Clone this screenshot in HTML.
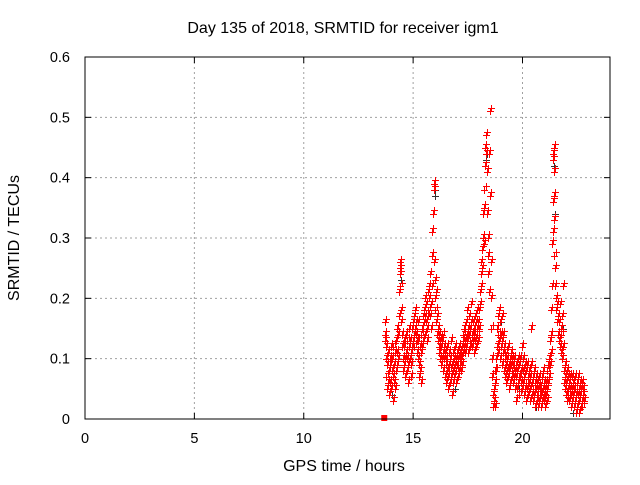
<!DOCTYPE html>
<html><head><meta charset="utf-8"><style>
body{margin:0;background:#fff}
svg text{font-family:"Liberation Sans",sans-serif;font-size:14.5px;fill:#000}
svg text.big{font-size:16px}
</style></head><body>
<svg id="chart" width="640" height="480">
<text class="big" x="343" y="33" text-anchor="middle">Day 135 of 2018, SRMTID for receiver igm1</text>
<g id="grid"></g>
<g id="ticks"></g>
<g id="marks"></g>
<rect x="85" y="57" width="525" height="362" fill="none" stroke="#000"/>
<text class="big" x="344" y="471" text-anchor="middle">GPS time / hours</text>
<text class="big" transform="translate(19,238) rotate(-90)" text-anchor="middle">SRMTID / TECUs</text>
</svg>
<script>
const xTicks=[0,5,10,15,20];
const yTicks=[0,0.1,0.2,0.3,0.4,0.5,0.6];
const yTickLabels=["0","0.1","0.2","0.3","0.4","0.5","0.6"];
// red series: [hour, srmtid]
const redPoints=[
[13.7,0.14],[13.7,0.16],[13.72,0.13],[13.74,0.12],[13.76,0.1],[13.78,0.07],[13.8,0.05],[13.82,0.09],[13.84,0.06],[13.86,0.11],[13.88,0.04],[13.9,0.08],[13.92,0.1],[13.94,0.06],[13.96,0.09],[13.98,0.12],[14.0,0.05],[14.02,0.08],[14.04,0.1],[14.06,0.07],[14.08,0.03],[14.1,0.12],[14.12,0.06],[14.14,0.09],[14.16,0.11],[14.18,0.05],[14.2,0.08],[14.22,0.13],[14.24,0.09],[14.26,0.15],[14.28,0.11],[14.3,0.14],[14.32,0.1],[14.34,0.17],[14.36,0.21],[14.38,0.25],[14.4,0.24],[14.4,0.26],[14.42,0.22],[14.44,0.18],[14.46,0.16],[14.48,0.12],[14.5,0.14],[14.52,0.1],[14.54,0.08],[14.56,0.12],[14.58,0.09],[14.6,0.13],[14.62,0.1],[14.64,0.07],[14.66,0.11],[14.68,0.14],[14.7,0.08],[14.72,0.1],[14.74,0.13],[14.76,0.09],[14.78,0.06],[14.8,0.12],[14.82,0.15],[14.84,0.1],[14.86,0.13],[14.88,0.07],[14.9,0.11],[14.92,0.09],[14.94,0.12],[14.96,0.15],[14.98,0.13],[15.0,0.16],[15.02,0.14],[15.04,0.17],[15.06,0.12],[15.08,0.15],[15.1,0.18],[15.12,0.14],[15.14,0.16],[15.16,0.13],[15.18,0.11],[15.2,0.16],[15.22,0.13],[15.24,0.1],[15.26,0.07],[15.28,0.09],[15.3,0.12],[15.32,0.08],[15.34,0.06],[15.36,0.11],[15.38,0.14],[15.4,0.12],[15.42,0.15],[15.44,0.17],[15.46,0.13],[15.48,0.16],[15.5,0.18],[15.52,0.14],[15.54,0.17],[15.56,0.2],[15.58,0.16],[15.6,0.19],[15.62,0.15],[15.64,0.13],[15.66,0.17],[15.68,0.21],[15.7,0.18],[15.72,0.22],[15.74,0.2],[15.76,0.24],[15.78,0.17],[15.8,0.15],[15.82,0.19],[15.84,0.22],[15.86,0.27],[15.88,0.31],[15.9,0.34],[15.92,0.34],[15.94,0.38],[15.95,0.39],[15.97,0.26],[15.98,0.23],[16.0,0.2],[16.02,0.18],[16.04,0.21],[16.06,0.16],[16.08,0.14],[16.1,0.17],[16.12,0.13],[16.14,0.15],[16.16,0.12],[16.18,0.14],[16.2,0.11],[16.22,0.13],[16.24,0.1],[16.26,0.12],[16.28,0.09],[16.3,0.13],[16.32,0.1],[16.34,0.14],[16.36,0.11],[16.38,0.08],[16.4,0.12],[16.42,0.1],[16.44,0.07],[16.46,0.11],[16.48,0.09],[16.5,0.06],[16.52,0.1],[16.54,0.08],[16.56,0.12],[16.58,0.07],[16.6,0.05],[16.62,0.09],[16.64,0.11],[16.66,0.08],[16.68,0.06],[16.7,0.1],[16.72,0.13],[16.74,0.07],[16.76,0.09],[16.78,0.04],[16.8,0.08],[16.82,0.11],[16.84,0.06],[16.86,0.1],[16.88,0.07],[16.9,0.12],[16.92,0.09],[16.94,0.06],[16.96,0.1],[16.98,0.08],[17.0,0.11],[17.02,0.09],[17.04,0.07],[17.06,0.1],[17.08,0.12],[17.1,0.08],[17.12,0.1],[17.14,0.09],[17.16,0.11],[17.18,0.08],[17.2,0.1],[17.22,0.12],[17.24,0.09],[17.26,0.13],[17.28,0.11],[17.3,0.14],[17.32,0.12],[17.34,0.15],[17.36,0.11],[17.38,0.13],[17.4,0.16],[17.42,0.12],[17.44,0.14],[17.46,0.18],[17.48,0.13],[17.5,0.15],[17.52,0.11],[17.54,0.14],[17.56,0.17],[17.58,0.12],[17.6,0.15],[17.62,0.13],[17.64,0.16],[17.66,0.19],[17.68,0.14],[17.7,0.12],[17.72,0.16],[17.74,0.13],[17.76,0.15],[17.78,0.11],[17.8,0.14],[17.82,0.17],[17.84,0.13],[17.86,0.16],[17.88,0.12],[17.9,0.15],[17.92,0.18],[17.94,0.14],[17.96,0.16],[17.98,0.13],[18.0,0.15],[18.02,0.18],[18.04,0.21],[18.06,0.19],[18.08,0.24],[18.1,0.26],[18.12,0.22],[18.14,0.28],[18.16,0.25],[18.18,0.3],[18.2,0.34],[18.22,0.29],[18.24,0.35],[18.26,0.38],[18.28,0.42],[18.3,0.45],[18.32,0.44],[18.34,0.47],[18.36,0.41],[18.38,0.34],[18.4,0.3],[18.42,0.27],[18.44,0.24],[18.46,0.21],[18.48,0.44],[18.5,0.51],[18.52,0.37],[18.54,0.26],[18.56,0.2],[18.58,0.15],[18.6,0.1],[18.62,0.07],[18.64,0.04],[18.66,0.02],[18.68,0.03],[18.7,0.05],[18.72,0.08],[18.74,0.02],[18.76,0.06],[18.78,0.1],[18.8,0.08],[18.82,0.12],[18.84,0.15],[18.86,0.11],[18.88,0.17],[18.9,0.14],[18.92,0.18],[18.94,0.13],[18.96,0.16],[18.98,0.1],[19.0,0.14],[19.02,0.12],[19.04,0.09],[19.06,0.13],[19.08,0.17],[19.1,0.11],[19.12,0.14],[19.14,0.08],[19.16,0.12],[19.18,0.1],[19.2,0.07],[19.22,0.11],[19.24,0.09],[19.26,0.06],[19.28,0.1],[19.3,0.08],[19.32,0.12],[19.34,0.07],[19.36,0.09],[19.38,0.05],[19.4,0.08],[19.42,0.1],[19.44,0.06],[19.46,0.09],[19.48,0.11],[19.5,0.07],[19.52,0.1],[19.54,0.08],[19.56,0.06],[19.58,0.09],[19.6,0.07],[19.62,0.1],[19.64,0.05],[19.66,0.08],[19.68,0.03],[19.7,0.07],[19.72,0.09],[19.74,0.05],[19.76,0.08],[19.78,0.06],[19.8,0.1],[19.82,0.07],[19.84,0.09],[19.86,0.04],[19.88,0.07],[19.9,0.1],[19.92,0.06],[19.94,0.08],[19.96,0.12],[19.98,0.05],[20.0,0.08],[20.02,0.06],[20.04,0.1],[20.06,0.04],[20.08,0.07],[20.1,0.09],[20.12,0.05],[20.14,0.08],[20.16,0.03],[20.18,0.06],[20.2,0.09],[20.22,0.05],[20.24,0.07],[20.26,0.04],[20.28,0.08],[20.3,0.06],[20.32,0.03],[20.34,0.07],[20.36,0.05],[20.38,0.09],[20.4,0.15],[20.42,0.06],[20.44,0.04],[20.46,0.07],[20.48,0.03],[20.5,0.05],[20.52,0.08],[20.54,0.04],[20.56,0.06],[20.58,0.02],[20.6,0.05],[20.62,0.07],[20.64,0.03],[20.66,0.06],[20.68,0.04],[20.7,0.02],[20.72,0.05],[20.74,0.07],[20.76,0.03],[20.78,0.05],[20.8,0.04],[20.82,0.06],[20.84,0.02],[20.86,0.04],[20.88,0.07],[20.9,0.03],[20.92,0.05],[20.94,0.08],[20.96,0.04],[20.98,0.06],[21.0,0.03],[21.02,0.05],[21.04,0.02],[21.06,0.04],[21.08,0.06],[21.1,0.03],[21.12,0.05],[21.14,0.08],[21.16,0.06],[21.18,0.09],[21.2,0.07],[21.22,0.1],[21.24,0.13],[21.26,0.09],[21.28,0.14],[21.3,0.11],[21.32,0.18],[21.34,0.22],[21.36,0.29],[21.38,0.31],[21.38,0.36],[21.4,0.43],[21.4,0.44],[21.42,0.45],[21.42,0.41],[21.44,0.37],[21.44,0.33],[21.46,0.27],[21.48,0.25],[21.5,0.22],[21.52,0.2],[21.54,0.18],[21.56,0.16],[21.58,0.19],[21.6,0.17],[21.62,0.14],[21.64,0.17],[21.66,0.13],[21.68,0.16],[21.7,0.19],[21.72,0.12],[21.74,0.15],[21.76,0.11],[21.78,0.14],[21.8,0.17],[21.82,0.1],[21.84,0.22],[21.86,0.12],[21.88,0.08],[21.9,0.06],[21.92,0.09],[21.94,0.05],[21.96,0.07],[21.98,0.04],[22.0,0.06],[22.02,0.03],[22.04,0.08],[22.06,0.05],[22.08,0.07],[22.1,0.04],[22.12,0.06],[22.14,0.03],[22.16,0.05],[22.18,0.07],[22.2,0.04],[22.22,0.02],[22.24,0.05],[22.26,0.07],[22.28,0.03],[22.3,0.06],[22.32,0.04],[22.34,0.02],[22.36,0.05],[22.38,0.07],[22.4,0.03],[22.42,0.05],[22.44,0.01],[22.46,0.04],[22.48,0.06],[22.5,0.02],[22.52,0.04],[22.54,0.07],[22.56,0.03],[22.58,0.05],[22.6,0.01],[22.62,0.04],[22.64,0.06],[22.66,0.02],[22.68,0.05],[22.7,0.03],[22.72,0.06],[22.74,0.02],[22.76,0.04],[22.78,0.05],[22.8,0.03]
];
// dark series, mostly hidden underneath red
const darkPoints=[
[14.0,0.04],[14.4,0.23],[15.95,0.38],[15.96,0.37],[16.9,0.05],[17.6,0.19],[18.3,0.43],[18.34,0.44],[19.0,0.16],[19.8,0.05],[20.6,0.02],[21.4,0.42],[21.44,0.34],[21.8,0.15],[22.3,0.01]
];
const squarePoints=[[13.68,0.0]];

const NS='http://www.w3.org/2000/svg';
const X0=85,X1=610,Y0=419,Y1=57,XMAX=24,YMAX=0.6;
function xs(h){return X0+(X1-X0)*h/XMAX;}
function ys(v){return Y0-(Y0-Y1)*v/YMAX;}
function mk(tag,attrs,parent){const e=document.createElementNS(NS,tag);for(const k in attrs)e.setAttribute(k,attrs[k]);parent.appendChild(e);return e;}
const grid=document.getElementById('grid'),ticks=document.getElementById('ticks'),marks=document.getElementById('marks');
xTicks.forEach(t=>{
  const x=xs(t);
  if(t>0){const g=mk('line',{x1:x,x2:x,y1:Y1,y2:Y0,stroke:'#a0a0a0','stroke-dasharray':'2,3'},grid);
  
  }
  mk('line',{x1:x,x2:x,y1:Y0,y2:Y0-6,stroke:'#000'},ticks);
  mk('line',{x1:x,x2:x,y1:Y1,y2:Y1+6,stroke:'#000'},ticks);
  const l=mk('text',{x:x,y:443,'text-anchor':'middle'},ticks);l.textContent=t;
  
  
});
yTicks.forEach((t,i)=>{
  const y=ys(t);
  if(i>0&&i<yTicks.length-1){const g=mk('line',{x1:X0,x2:X1,y1:y,y2:y,stroke:'#a0a0a0','stroke-dasharray':'2,3'},grid);
  
  }
  mk('line',{x1:X0,x2:X0+6,y1:y,y2:y,stroke:'#000'},ticks);
  mk('line',{x1:X1,x2:X1-6,y1:y,y2:y,stroke:'#000'},ticks);
  const l=mk('text',{x:70,y:y+5,'text-anchor':'end'},ticks);l.textContent=yTickLabels[i];
  
  
});
function plus(h,v,color){
  const x=Math.round(xs(h))+0.5,y=Math.round(ys(v))+0.5;
  const p=mk('path',{d:`M${x-3.5},${y}H${x+3.5}M${x},${y-3.5}V${y+3.5}`,stroke:color,'stroke-width':1,fill:'none'},marks);
  
  
}
darkPoints.forEach(p=>plus(p[0]+0.03,p[1],'#333'));
redPoints.forEach(p=>plus(p[0],p[1],'#ff0000'));
redPoints.forEach(p=>plus(p[0]+0.05,p[1]+0.006,'#ff0000'));
squarePoints.forEach(p=>{
  const r=mk('rect',{x:xs(p[0])-3,y:ys(p[1])-4,width:6,height:6,fill:'#ff0000'},marks);
  
  
});
</script>
</body></html>
